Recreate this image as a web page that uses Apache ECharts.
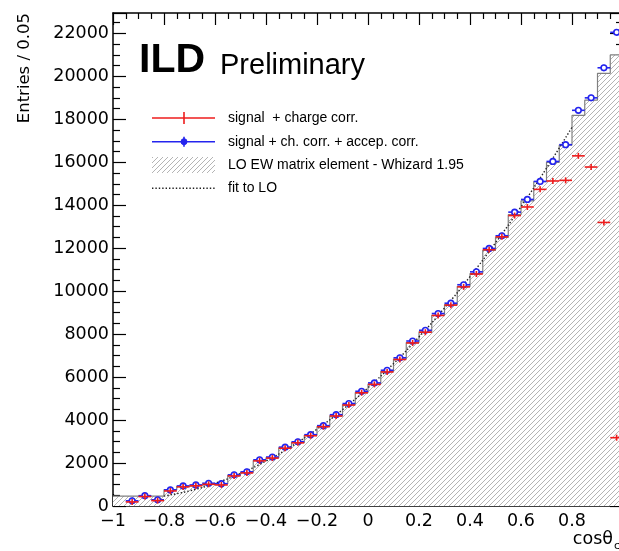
<!DOCTYPE html>
<html>
<head>
<meta charset="utf-8">
<script src="https://cdn.jsdelivr.net/npm/echarts@6/dist/echarts.min.js"></script>
<style>
  html, body { margin: 0; padding: 0; background: #fff; }
  #c { width: 619px; height: 551px; }
</style>
</head>
<body>
<div id="c"></div>
<script>
// cos(theta) bin centres, bin width 0.05
const binCenters = [-0.975,-0.925,-0.875,-0.825,-0.775,-0.725,-0.675,-0.625,-0.575,-0.525,
  -0.475,-0.425,-0.375,-0.325,-0.275,-0.225,-0.175,-0.125,-0.075,-0.025,
  0.025,0.075,0.125,0.175,0.225,0.275,0.325,0.375,0.425,0.475,
  0.525,0.575,0.625,0.675,0.725,0.775,0.825,0.875,0.925,0.975];
const binWidth = 0.05;

// LO EW matrix element (Whizard 1.95) histogram
const loHist = [460,460,460,460,760,920,970,1040,1030,1430,
  1570,2120,2250,2710,2960,3290,3700,4200,4720,5280,
  5680,6260,6840,7610,8110,8880,9370,10220,10820,11900,
  12500,13560,14200,15100,16000,16800,18180,18890,20140,21000];

// signal + charge correction
const sigCharge = [null,190,440,250,700,890,940,1010,980,1400,
  1540,2100,2230,2690,2940,3270,3690,4190,4700,5270,
  5660,6240,6820,7590,8090,8870,9350,10200,10800,11930,
  12530,13520,13920,14740,15130,15160,16300,15780,13200,3180];

// signal + charge correction + acceptance correction
const sigChargeAccep = [null,240,480,290,750,935,980,1060,1040,1450,
  1590,2150,2280,2740,2990,3320,3740,4250,4770,5340,
  5730,6320,6900,7680,8180,8960,9440,10300,10900,11990,
  12580,13680,14270,15110,16040,16820,18420,19000,20400,22050];

// fit to LO, sampled along cos(theta)
const fitX = [-0.8,-0.7,-0.6,-0.5,-0.4,-0.3,-0.2,-0.1,0,0.1,0.2,0.3,0.4,0.5,0.6,0.7,0.8];
const fitY = [462,704,1056,1520,2094,2780,3576,4482,5500,6628,7868,9218,10678,12250,13932,15726,17630];

// axis ticks
const xTickStep = 0.2;
const yTickStep = 2000;
const yMax = 22950;

const BLUE = '#2424ee';
const RED = '#ee1c1c';
const AXIS_FONT = 'DejaVu Sans';
const SANS = 'Liberation Sans';

function hatchCanvas() {
  const s = 5;
  const cv = document.createElement('canvas');
  cv.width = s; cv.height = s;
  const g = cv.getContext('2d');
  g.fillStyle = '#ffffff';
  g.fillRect(0, 0, s, s);
  g.strokeStyle = '#ababab';
  g.lineWidth = 0.9;
  g.beginPath();
  g.moveTo(-1, s + 1); g.lineTo(s + 1, -1);
  g.moveTo(-1, 1); g.lineTo(1, -1);
  g.moveTo(s - 1, s + 1); g.lineTo(s + 1, s - 1);
  g.stroke();
  return cv;
}
const hatch = { image: hatchCanvas(), repeat: 'repeat' };

// step outline: left edge of every bin, then the right edge of the last
const histData = binCenters.map((c, i) => [c - binWidth / 2, loHist[i]]);
histData.push([binCenters[binCenters.length - 1] + binWidth / 2, loHist[loHist.length - 1]]);

const pts = vals => binCenters.map((c, i) => [c, vals[i]]).filter(p => p[1] !== null);

function errMarker(color, withCircle) {
  return function (params, api) {
    const x = api.value(0), y = api.value(1);
    const l = api.coord([x - binWidth / 2, y]);
    const r = api.coord([x + binWidth / 2, y]);
    const c = api.coord([x, y]);
    const children = [
      { type: 'line', shape: { x1: l[0], y1: l[1], x2: r[0], y2: r[1] }, style: { stroke: color, lineWidth: 1.6 } },
      { type: 'line', shape: { x1: c[0], y1: c[1] - 3, x2: c[0], y2: c[1] + 3 }, style: { stroke: color, lineWidth: 1.6 } }
    ];
    if (withCircle) {
      children.push({ type: 'circle', shape: { cx: c[0], cy: c[1], r: 2.8 }, style: { fill: '#fff', stroke: color, lineWidth: 1.6 } });
    }
    return { type: 'group', children };
  };
}

const fmtX = v => {
  const r = Math.round(v * 10) / 10;
  if (r === 0) return '0';
  const s = Number.isInteger(r) ? String(Math.abs(r)) : Math.abs(r).toFixed(1);
  return (r < 0 ? '\u2212' : '') + s;
};

const axisLine = { show: true, onZero: false, lineStyle: { color: '#000', width: 1.5 } };

const xCommon = {
  type: 'value', min: -1, max: 1, interval: xTickStep,
  axisLine,
  axisTick: { show: true, inside: true, length: 12, lineStyle: { color: '#000', width: 1.2 } },
  minorTick: { show: true, splitNumber: 4, length: 6, lineStyle: { color: '#000', width: 1.2 } },
  splitLine: { show: false }, minorSplitLine: { show: false }
};
const yCommon = {
  type: 'value', min: 0, max: yMax, interval: yTickStep,
  axisLine,
  axisTick: { show: true, inside: true, length: 13, lineStyle: { color: '#000', width: 1.2 } },
  minorTick: { show: true, splitNumber: 4, length: 7, lineStyle: { color: '#000', width: 1.2 } },
  splitLine: { show: false }, minorSplitLine: { show: false }
};

const chart = echarts.init(document.getElementById('c'), null, { renderer: 'canvas' });

const legendY = [118, 141.7, 165, 188.3];
const legX1 = 152, legX2 = 215, legMid = 184, legTextX = 228;
const legendFont = { fontFamily: SANS, fontSize: 14, fill: '#000', verticalAlign: 'middle', align: 'left' };

const anno = { fontFamily: AXIS_FONT, fontStyle: 'italic', fill: '#474747' };

chart.setOption({
  animation: false,
  backgroundColor: '#fff',
  grid: { left: 113, top: 13, width: 510, height: 493, containLabel: false, outerBoundsMode: 'none' },
  xAxis: [
    Object.assign({}, xCommon, {
      position: 'bottom',
      axisLabel: { show: true, formatter: fmtX, color: '#000', fontFamily: AXIS_FONT, fontSize: 17.5, margin: 6 }
    }),
    Object.assign({}, xCommon, { position: 'top', axisLabel: { show: false } })
  ],
  yAxis: [
    Object.assign({}, yCommon, {
      position: 'left',
      axisLabel: { show: true, formatter: v => String(v), showMaxLabel: false, color: '#000', fontFamily: AXIS_FONT, fontSize: 17.5, margin: 4 }
    }),
    Object.assign({}, yCommon, { position: 'right', axisLabel: { show: false } })
  ],
  series: [
    {
      name: 'LO EW matrix element - Whizard 1.95',
      type: 'line', step: 'end', data: histData, symbol: 'none',
      lineStyle: { color: '#808080', width: 1.2 },
      areaStyle: { color: hatch, opacity: 1, origin: 'start' },
      z: 1
    },
    {
      name: 'fit to LO',
      type: 'line', smooth: true, data: fitX.map((x, i) => [x, fitY[i]]), symbol: 'none',
      lineStyle: { color: '#222', width: 1.4, type: [1.4, 2] },
      z: 2
    },
    {
      name: 'signal + ch. corr. + accep. corr.',
      type: 'custom', renderItem: errMarker(BLUE, true), data: pts(sigChargeAccep),
      encode: { x: 0, y: 1 }, z: 3
    },
    {
      name: 'signal  + charge corr.',
      type: 'custom', renderItem: errMarker(RED, false), data: pts(sigCharge),
      encode: { x: 0, y: 1 }, z: 4
    }
  ],
  graphic: [
    // y axis title
    { type: 'text', x: 25, y: 13, rotation: Math.PI / 2,
      style: { text: 'Entries / 0.05', fontFamily: AXIS_FONT, fontSize: 16.5, fill: '#000', align: 'right', verticalAlign: 'middle' } },
    // x axis title
    { type: 'text', x: 613, y: 539,
      style: { text: 'cos\u03b8', fontFamily: AXIS_FONT, fontSize: 17.5, fill: '#000', align: 'right', verticalAlign: 'middle' } },
    { type: 'text', x: 614, y: 546,
      style: { text: 'c', fontFamily: AXIS_FONT, fontSize: 11, fill: '#000', align: 'left', verticalAlign: 'middle' } },
    // ILD Preliminary
    { type: 'text', x: 139, y: 61,
      style: { text: 'ILD', fontFamily: SANS, fontWeight: 'bold', fontSize: 41, fill: '#000', align: 'left', verticalAlign: 'middle' } },
    { type: 'text', x: 220, y: 66,
      style: { text: 'Preliminary', fontFamily: SANS, fontSize: 29, fill: '#000', align: 'left', verticalAlign: 'middle' } },
    // legend
    { type: 'line', shape: { x1: legX1, y1: legendY[0], x2: legX2, y2: legendY[0] }, style: { stroke: RED, lineWidth: 1.6 } },
    { type: 'line', shape: { x1: legMid, y1: legendY[0] - 6, x2: legMid, y2: legendY[0] + 6 }, style: { stroke: RED, lineWidth: 1.6 } },
    { type: 'text', x: legTextX, y: legendY[0], style: Object.assign({ text: 'signal  + charge corr.' }, legendFont) },
    { type: 'line', shape: { x1: legX1, y1: legendY[1], x2: legX2, y2: legendY[1] }, style: { stroke: BLUE, lineWidth: 1.6 } },
    { type: 'line', shape: { x1: legMid, y1: legendY[1] - 5, x2: legMid, y2: legendY[1] + 5 }, style: { stroke: BLUE, lineWidth: 1.6 } },
    { type: 'circle', shape: { cx: legMid, cy: legendY[1], r: 3 }, style: { fill: BLUE, stroke: BLUE, lineWidth: 1 } },
    { type: 'text', x: legTextX, y: legendY[1], style: Object.assign({ text: 'signal + ch. corr. + accep. corr.' }, legendFont) },
    { type: 'rect', shape: { x: legX1, y: legendY[2] - 8, width: legX2 - legX1, height: 16 }, style: { fill: hatch, stroke: null } },
    { type: 'text', x: legTextX, y: legendY[2], style: Object.assign({ text: 'LO EW matrix element - Whizard 1.95' }, legendFont) },
    { type: 'line', shape: { x1: legX1, y1: legendY[3], x2: legX2, y2: legendY[3] }, style: { stroke: '#222', lineWidth: 1.4, lineDash: [1.4, 2] } },
    { type: 'text', x: legTextX, y: legendY[3], style: Object.assign({ text: 'fit to LO' }, legendFont) },
    // process annotation
    { type: 'text', x: 365, y: 475, style: Object.assign({ text: 'e', fontSize: 18, align: 'left', verticalAlign: 'middle' }, anno) },
    { type: 'text', x: 375, y: 467, style: Object.assign({ text: '\u2212', fontSize: 11, align: 'left', verticalAlign: 'middle' }, anno) },
    { type: 'text', x: 374, y: 484, style: Object.assign({ text: 'R', fontSize: 11, align: 'left', verticalAlign: 'middle' }, anno) },
    { type: 'text', x: 382, y: 475, style: Object.assign({ text: 'e', fontSize: 18, align: 'left', verticalAlign: 'middle' }, anno) },
    { type: 'text', x: 390, y: 467, style: Object.assign({ text: '+', fontSize: 11, align: 'left', verticalAlign: 'middle' }, anno) },
    { type: 'text', x: 390, y: 484, style: Object.assign({ text: 'L', fontSize: 11, align: 'left', verticalAlign: 'middle' }, anno) },
    { type: 'text', x: 397, y: 475, style: Object.assign({ text: '\u2192', fontSize: 16, align: 'left', verticalAlign: 'middle' }, anno) },
    { type: 'text', x: 414, y: 475, style: Object.assign({ text: 'c', fontSize: 18, align: 'left', verticalAlign: 'middle' }, anno) },
    { type: 'text', x: 424, y: 475, style: Object.assign({ text: 'c', fontSize: 18, align: 'left', verticalAlign: 'middle' }, anno) },
    { type: 'line', shape: { x1: 426, y1: 469.5, x2: 434, y2: 469.5 }, style: { stroke: '#474747', lineWidth: 1.3 } },
    { type: 'text', x: 433, y: 475, style: Object.assign({ text: ', 250GeV, 250 fb', fontSize: 18, align: 'left', verticalAlign: 'middle' }, anno) },
    { type: 'text', x: 589, y: 469, style: Object.assign({ text: '-1', fontSize: 11, align: 'left', verticalAlign: 'middle' }, anno) }
  ]
});
</script>
</body>
</html>
